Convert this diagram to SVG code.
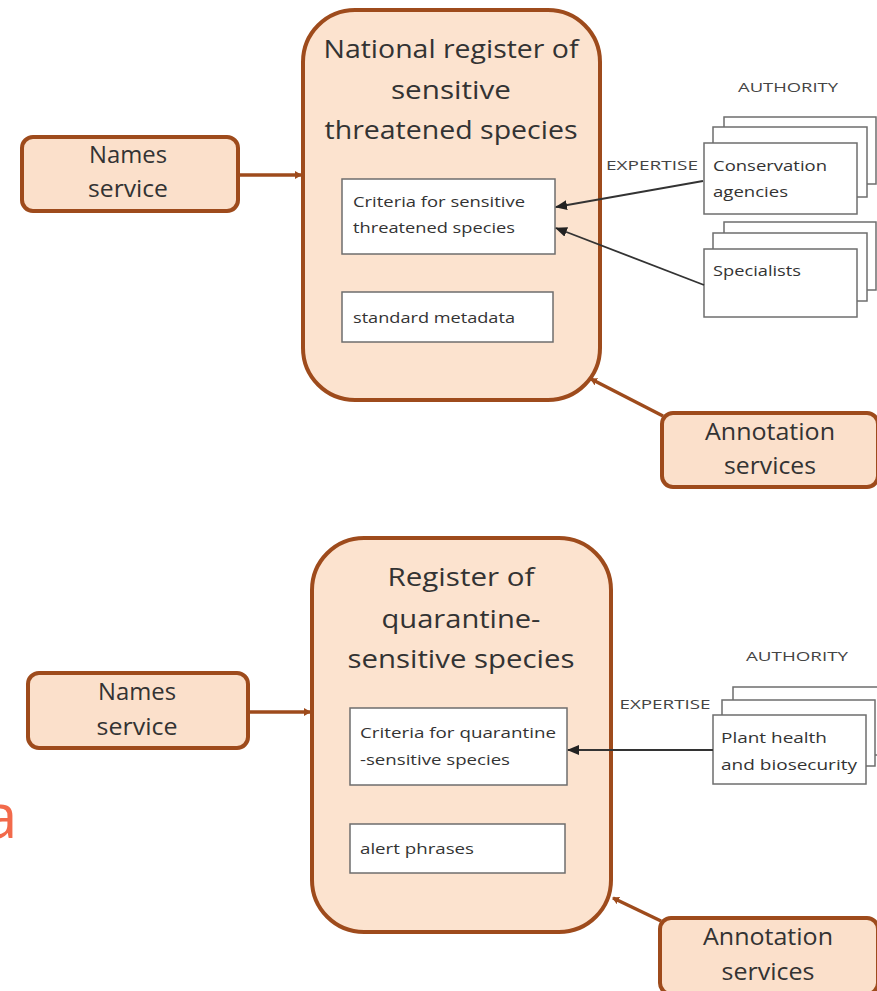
<svg xmlns="http://www.w3.org/2000/svg" width="877" height="991" viewBox="0 0 877 991">
<style>
.reg{fill:#fce3cf;stroke:#9e4b1c;stroke-width:4}
.svc{fill:#fbe0cb;stroke:#9e4b1c;stroke-width:4}
.inner{fill:#fff;stroke:#6e6e6e;stroke-width:1.5}
.stk{fill:#fff;stroke:#6e6e6e;stroke-width:1.5}
text{font-family:"Open Sans",Lato,sans-serif}
.big{font-size:25px;fill:#333;text-anchor:middle}
.svct{font-size:23px;fill:#333;text-anchor:middle}
.sm{font-size:15px;fill:#333}
.lab{font-size:13px;fill:#444;text-anchor:middle}
.brown{stroke:#9e4b1c;stroke-width:3.5;fill:none}
.black{stroke:#333;stroke-width:1.8;fill:none}
</style>
<defs>
<marker id="ab" markerWidth="8" markerHeight="8" refX="6" refY="4" orient="auto" markerUnits="userSpaceOnUse"><path d="M0,0 L7,4 L0,8 z" fill="#9e4b1c"/></marker>
<marker id="ak" markerWidth="12" markerHeight="10" refX="11" refY="5" orient="auto" markerUnits="userSpaceOnUse"><path d="M0,0 L12,5 L0,10 z" fill="#222"/></marker>
</defs>
<rect width="877" height="991" fill="#fff"/>

<g id="reg1">
<rect class="reg" x="303" y="10" width="297" height="390" rx="52"/>
<text class="big" x="451" y="58" textLength="255" lengthAdjust="spacingAndGlyphs">National register of</text>
<text class="big" x="451" y="99" textLength="120" lengthAdjust="spacingAndGlyphs">sensitive</text>
<text class="big" x="451" y="139" textLength="253" lengthAdjust="spacingAndGlyphs">threatened species</text>
</g>
<g id="crit1">
<rect class="inner" x="342" y="179" width="213" height="75"/>
<text class="sm" x="353" y="207" textLength="172" lengthAdjust="spacingAndGlyphs">Criteria for sensitive</text>
<text class="sm" x="353" y="233" textLength="162" lengthAdjust="spacingAndGlyphs">threatened species</text>
</g>
<g id="meta1">
<rect class="inner" x="342" y="292" width="211" height="50"/>
<text class="sm" x="353" y="323" textLength="162" lengthAdjust="spacingAndGlyphs">standard metadata</text>
</g>
<g id="names1">
<rect class="svc" x="22" y="137" width="216" height="74" rx="11"/>
<text class="svct" x="128" y="163" textLength="78" lengthAdjust="spacingAndGlyphs">Names</text>
<text class="svct" x="128" y="197" textLength="80" lengthAdjust="spacingAndGlyphs">service</text>
</g>
<g id="annot1">
<rect class="svc" x="662" y="413" width="216" height="74" rx="11"/>
<text class="svct" x="770" y="440" textLength="130" lengthAdjust="spacingAndGlyphs">Annotation</text>
<text class="svct" x="770" y="474" textLength="92" lengthAdjust="spacingAndGlyphs">services</text>
</g>
<g id="cons">
<rect class="stk" x="724" y="117" width="152" height="67"/>
<rect class="stk" x="713" y="127" width="154" height="70"/>
<rect class="stk" x="704" y="143" width="153" height="71"/>
<text class="sm" x="713" y="171" textLength="114" lengthAdjust="spacingAndGlyphs">Conservation</text>
<text class="sm" x="713" y="197" textLength="75" lengthAdjust="spacingAndGlyphs">agencies</text>
</g>
<g id="spec">
<rect class="stk" x="724" y="222" width="152" height="68"/>
<rect class="stk" x="713" y="233" width="154" height="68"/>
<rect class="stk" x="704" y="249" width="153" height="68"/>
<text class="sm" x="713" y="276" textLength="88" lengthAdjust="spacingAndGlyphs">Specialists</text>
</g>
<text class="lab" x="788" y="92" textLength="100" lengthAdjust="spacingAndGlyphs">AUTHORITY</text>
<text class="lab" x="652" y="170" textLength="92" lengthAdjust="spacingAndGlyphs">EXPERTISE</text>

<g id="reg2">
<rect class="reg" x="312" y="538" width="299" height="394" rx="52"/>
<text class="big" x="461" y="586" textLength="147" lengthAdjust="spacingAndGlyphs">Register of</text>
<text class="big" x="461" y="628" textLength="159" lengthAdjust="spacingAndGlyphs">quarantine-</text>
<text class="big" x="461" y="668" textLength="227" lengthAdjust="spacingAndGlyphs">sensitive species</text>
</g>
<g id="crit2">
<rect class="inner" x="350" y="708" width="217" height="77"/>
<text class="sm" x="360" y="738" textLength="196" lengthAdjust="spacingAndGlyphs">Criteria for quarantine</text>
<text class="sm" x="360" y="765" textLength="150" lengthAdjust="spacingAndGlyphs">-sensitive species</text>
</g>
<g id="alert2">
<rect class="inner" x="350" y="824" width="215" height="49"/>
<text class="sm" x="360" y="854" textLength="114" lengthAdjust="spacingAndGlyphs">alert phrases</text>
</g>
<g id="names2">
<rect class="svc" x="28" y="673" width="220" height="75" rx="11"/>
<text class="svct" x="137" y="700" textLength="78" lengthAdjust="spacingAndGlyphs">Names</text>
<text class="svct" x="137" y="735" textLength="81" lengthAdjust="spacingAndGlyphs">service</text>
</g>
<g id="annot2">
<rect class="svc" x="660" y="918" width="218" height="76" rx="11"/>
<text class="svct" x="768" y="945" textLength="130" lengthAdjust="spacingAndGlyphs">Annotation</text>
<text class="svct" x="768" y="980" textLength="93" lengthAdjust="spacingAndGlyphs">services</text>
</g>
<g id="plant">
<rect class="stk" x="733" y="687" width="146" height="68"/>
<rect class="stk" x="722" y="700" width="153" height="66"/>
<rect class="stk" x="713" y="715" width="153" height="69"/>
<text class="sm" x="721" y="743" textLength="106" lengthAdjust="spacingAndGlyphs">Plant health</text>
<text class="sm" x="721" y="770" textLength="136" lengthAdjust="spacingAndGlyphs">and biosecurity</text>
</g>
<text class="lab" x="797" y="661" textLength="102" lengthAdjust="spacingAndGlyphs">AUTHORITY</text>
<text class="lab" x="665" y="709" textLength="91" lengthAdjust="spacingAndGlyphs">EXPERTISE</text>

<text x="-17" y="838" font-size="62" fill="#f26a4b">a</text>

<g id="connectors">
<line class="brown" x1="240" y1="175" x2="301" y2="175" marker-end="url(#ab)"/>
<line class="brown" x1="663" y1="416" x2="591" y2="379" marker-end="url(#ab)"/>
<line class="black" x1="703" y1="181" x2="556" y2="207" marker-end="url(#ak)"/>
<line class="black" x1="704" y1="285" x2="556" y2="228" marker-end="url(#ak)"/>
<line class="brown" x1="250" y1="712" x2="310" y2="712" marker-end="url(#ab)"/>
<line class="brown" x1="661" y1="921" x2="613" y2="898" marker-end="url(#ab)"/>
<line class="black" x1="713" y1="750" x2="568" y2="750" marker-end="url(#ak)"/>
</g>
</svg>
